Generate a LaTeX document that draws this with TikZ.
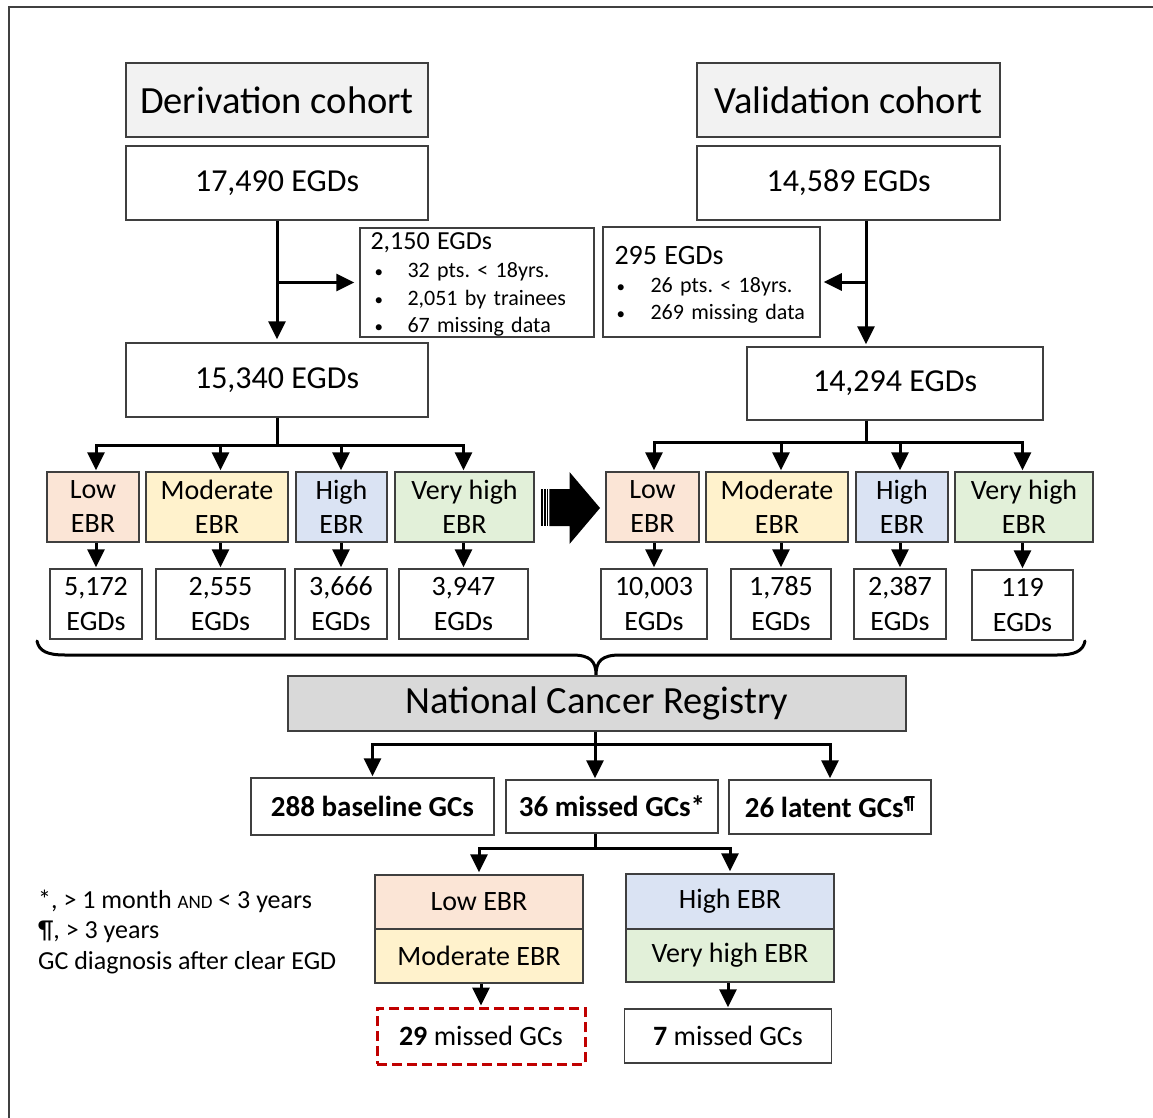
\documentclass[tikz,border=0pt]{standalone}
\usepackage{fontspec}
\setmainfont{Carlito}
\usetikzlibrary{arrows.meta}
\definecolor{cpeach}{HTML}{FBE5D6}
\definecolor{cyellow}{HTML}{FFF2CC}
\definecolor{cblue}{HTML}{DAE3F3}
\definecolor{cgreen}{HTML}{E2F0D9}
\definecolor{ctitle}{HTML}{F2F2F2}
\definecolor{cncr}{HTML}{D9D9D9}
\definecolor{cred}{HTML}{C00000}
\definecolor{cborder}{HTML}{3F3F3F}
\definecolor{cframe}{HTML}{404040}
\frenchspacing
\newcommand\smbul{{\fontsize{17}{17}\selectfont •}}
\begin{document}
\begin{tikzpicture}[x=1pt,y=-1pt,
  box/.style={draw=cborder, line width=1.5pt, inner sep=0pt, align=center, fill=white},
  ttl/.style={box, fill=ctitle, font=\fontsize{38.5}{44}\selectfont},
  big/.style={box, font=\fontsize{32}{38}\selectfont},
  ebr/.style={box, font=\fontsize{28}{34}\selectfont, minimum height=70},
  cnt/.style={box, font=\fontsize{28}{35}\selectfont, minimum height=70},
  gcbox/.style={box, font=\bfseries\fontsize{29}{34}\selectfont},
  stk/.style={box, font=\fontsize{28}{34}\selectfont, minimum width=208},
  excl/.style={box, align=left, font=\fontsize{22}{27.5}\selectfont},
  fnote/.style={anchor=base west, inner sep=0pt, font=\fontsize{26}{30}\selectfont},
  arr/.style={line width=3pt, -{Triangle[length=18pt,width=17pt]}, shorten >=1pt},
]
\useasboundingbox (0,0) rectangle (1153,1118);
% frame
\draw[cframe, line width=2pt] (1153,7) -- (9,7) -- (9,1118);

% titles and top boxes
\node[ttl, minimum width=302, minimum height=74] (dtitle) at (277,100) {Derivation cohort};
\node[ttl, minimum width=303, minimum height=74] (vtitle) at (848.5,100) {Validation cohort};
\node[big, minimum width=302, minimum height=74] (d17) at (277,183) {17,490 EGDs};
\node[big, minimum width=303, minimum height=74] (v14) at (848.5,183) {14,589 EGDs};
\node[big, minimum width=302, minimum height=74] (d153) at (277,380) {15,340 EGDs};
\node[big, minimum width=296, minimum height=73] (v142) at (895,383.5) {14,294 EGDs};

% exclusion boxes
\node[excl, text width=213, inner xsep=10.5, minimum height=109] (dexcl) at (477,282.5)
 {\rule{0pt}{20.5pt}{\fontsize{26}{27.5}\selectfont 2,150 EGDs}\\[1pt]
  \hspace*{4pt}\makebox[33pt][l]{\smbul}32 pts. < 18yrs.\\
  \hspace*{4pt}\makebox[33pt][l]{\smbul}2,051 by trainees\\
  \hspace*{4pt}\makebox[33pt][l]{\smbul}67 missing data};
\node[excl, text width=194, inner xsep=11.5, minimum height=110] (vexcl) at (711.5,282)
 {\rule{0pt}{24pt}{\fontsize{28}{27.5}\selectfont 295 EGDs}\\[0.5pt]
  \hspace*{2pt}\makebox[34pt][l]{\smbul}26 pts. < 18yrs.\\
  \hspace*{2pt}\makebox[34pt][l]{\smbul}269 missing data};

% derivation EBR
\node[ebr, fill=cpeach, minimum width=92] (dlow) at (93,507) {Low\\EBR};
\node[ebr, fill=cyellow, minimum width=142] (dmod) at (217,507) {Moderate\\EBR};
\node[ebr, fill=cblue, minimum width=91] (dhigh) at (341.5,507) {High\\EBR};
\node[ebr, fill=cgreen, minimum width=139] (dvh) at (464.5,507) {Very high\\EBR};
\node[cnt, minimum width=92] (dc1) at (96,604) {5,172\\EGDs};
\node[cnt, minimum width=129] (dc2) at (220.5,604) {2,555\\EGDs};
\node[cnt, minimum width=92] (dc3) at (341,604) {3,666\\EGDs};
\node[cnt, minimum width=129] (dc4) at (463.5,604) {3,947\\EGDs};

% validation EBR
\node[ebr, fill=cpeach, minimum width=93] (vlow) at (652.5,507) {Low\\EBR};
\node[ebr, fill=cyellow, minimum width=142] (vmod) at (777,507) {Moderate\\EBR};
\node[ebr, fill=cblue, minimum width=92] (vhigh) at (902,507) {High\\EBR};
\node[ebr, fill=cgreen, minimum width=138] (vvh) at (1024,507) {Very high\\EBR};
\node[cnt, minimum width=106] (vc1) at (654,604) {10,003\\EGDs};
\node[cnt, minimum width=100] (vc2) at (781,604) {1,785\\EGDs};
\node[cnt, minimum width=92] (vc3) at (900,604) {2,387\\EGDs};
\node[cnt, minimum width=101] (vc4) at (1022.5,605) {119\\EGDs};

% big arrow
\fill (549.3,489) -- (569.5,489) -- (569.5,472) -- (600,508) -- (569.5,544) -- (569.5,526) -- (549.3,526) -- cycle;
\fill (541,489) rectangle (542.7,526);
\fill (544,489) rectangle (545.7,526);
\fill (546.9,489) rectangle (548.4,526);

% brace
\draw[line width=3pt, line cap=round, line join=round]
  (37,641) .. controls (39,651) and (47,655) .. (65,655) -- (572,655)
  .. controls (590,655) and (596,661) .. (596,675)
  .. controls (596,661) and (602,655) .. (620,655) -- (1057,655)
  .. controls (1075,655) and (1083,651) .. (1085,641);

% registry
\node[box, fill=cncr, minimum width=618, minimum height=55, font=\fontsize{38.5}{44}\selectfont] (ncr) at (597,703.5) {National Cancer Registry};
\node[gcbox, minimum width=243, minimum height=57] (g288) at (372.5,806.5) {288 baseline GCs};
\node[gcbox, minimum width=212, minimum height=53] (g36) at (612,806.5) {36 missed GCs*};
\node[gcbox, minimum width=202, minimum height=54] (g26) at (830,807) {26 latent GCs\raisebox{0.3em}{\fontsize{19}{19}\selectfont ¶}};

\node[stk, fill=cpeach, minimum height=54] (slow) at (479,902) {Low EBR};
\node[stk, fill=cyellow, minimum height=54] (smod) at (479,956) {Moderate EBR};
\node[stk, fill=cblue, minimum height=55] (shigh) at (730,901.5) {High EBR};
\node[stk, fill=cgreen, minimum height=53] (svh) at (730,955.5) {Very high EBR};

\node[draw=cred, line width=3pt, dash pattern=on 10pt off 5pt, inner sep=0pt, fill=white,
      minimum width=208, minimum height=56, font=\fontsize{28}{34}\selectfont] (m29) at (481,1036) {\textbf{29} missed GCs};
\node[box, minimum width=207, minimum height=54, font=\fontsize{28}{34}\selectfont] (m7) at (728,1036) {\textbf{7} missed GCs};

% footnotes
\node[fnote] (fn1) at (38,908) {*, > 1 month {\fontsize{19}{19}\selectfont AND} < 3 years};
\node[fnote] (fn2) at (38,938) {¶, > 3 years};
\node[fnote] (fn3) at (38,969) {GC diagnosis after clear EGD};

% connectors
\coordinate (vx) at (866,0);
\coordinate (db) at (0,445);
\coordinate (vb) at (0,442);
\coordinate (cx) at (595,0);
\coordinate (nb) at (0,744);
\coordinate (mb) at (0,848);

\draw[arr, shorten >=3pt] (d17.south) -- (d153.north);
\draw[arr, shorten >=5pt] (d17.south |- dexcl.west) -- (dexcl.west);
\draw[arr, shorten >=2pt] (v14.south -| vx) -- (v142.north -| vx);
\draw[arr, shorten >=3pt] (vx |- vexcl.east) -- (vexcl.east);

\foreach \t/\c in {dlow/dc1, dmod/dc2, dhigh/dc3, dvh/dc4} {
  \draw[arr] (d153.south) |- (db -| \c) -- (\c |- \t.north);
  \draw[arr] (\c |- \t.south) -- (\c.north);
}
\foreach \t/\c in {vlow/vc1, vmod/vc2, vhigh/vc3, vvh/vc4} {
  \draw[arr] (v142.south -| vx) |- (vb -| \c) -- (\c |- \t.north);
  \draw[arr] (\c |- \t.south) -- (\c.north);
}

\draw[arr] (ncr.south -| cx) |- (nb -| g288.north) -- (g288.north);
\draw[arr] (ncr.south -| cx) -- (g36.north -| cx);
\draw[arr] (ncr.south -| cx) |- (nb -| g26.north) -- (g26.north);
\draw[arr, shorten >=2pt] (g36.south -| cx) |- (mb -| slow.north) -- (slow.north);
\draw[arr, shorten >=2pt] (g36.south -| cx) |- (mb -| shigh.north) -- (shigh.north);
\draw[arr] (m29.north |- smod.south) -- (m29.north);
\draw[arr] (m7.north |- svh.south) -- (m7.north);
\end{tikzpicture}
\end{document}
